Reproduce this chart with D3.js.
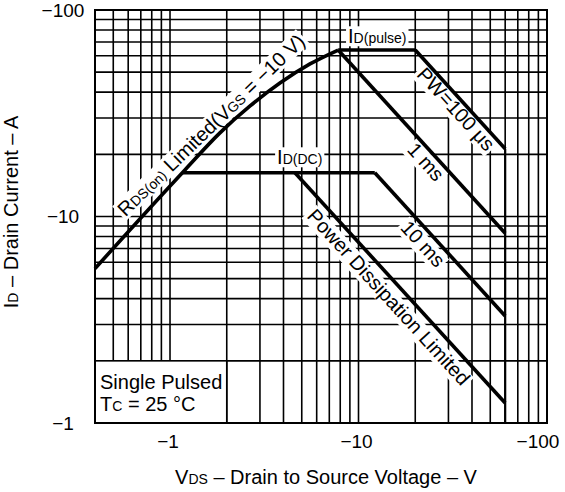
<!DOCTYPE html>
<html>
<head>
<meta charset="utf-8">
<script src="https://cdn.jsdelivr.net/npm/d3@7"></script>
<style>
  body { margin: 0; background: #fff; }
  text { font-family: "Liberation Sans", Arial, Helvetica, sans-serif; fill: #000; white-space: pre; }
</style>
</head>
<body>
<svg id="graph" width="565" height="492"></svg>
<script>
  var svg = d3.select("#graph");

  // tick values are magnitudes, the labels carry the minus sign
  var xTicks = [1, 10, 100];
  var xTickLabels = ["\u22121", "\u221210", "\u2212100"];
  var yTicks = [1, 10, 100];
  var yTickLabels = ["\u22121", "\u221210", "\u2212100"];

  // SOA boundaries, |VDS| (V) against |ID| (A)
  var rdsV = [0.4, 0.69, 1.2, 1.84, 2.66, 3.83, 5.53, 7.8];
  var rdsI = [5.6, 9.7, 16.8, 25.4, 34.3, 44.3, 54.8, 64];
  var pulseV = [7.8, 20];
  var pulseI = [64, 64];
  var pw100V = [20, 60];
  var pw100I = [64, 21.3];
  var ms1V = [7.8, 60];
  var ms1I = [64, 8.3];
  var dcV = [1.17, 12.2];
  var dcI = [16.3, 16.3];
  var ms10V = [12.2, 60];
  var ms10I = [16.3, 3.3];
  var pdV = [4.6, 60];
  var pdI = [16.3, 1.25];
  var vdssV = [60, 60];
  var vdssI = [21.3, 1];

  var x = d3.scaleLog().domain([0.4, 100]).range([95, 547]);
  var y = d3.scaleLog().domain([1, 100]).range([423, 10]);

  function pts(vs, is) {
    return vs.map(function(v, i) { return [v, is[i]]; });
  }
  var line = d3.line()
      .x(function(d) { return x(d[0]); })
      .y(function(d) { return y(d[1]); });
  var smooth = d3.line()
      .x(function(d) { return x(d[0]); })
      .y(function(d) { return y(d[1]); })
      .curve(d3.curveMonotoneX);

  // slope -1 in log-log space, as drawn on this grid
  var diag = Math.atan2(y(1) - y(10), x(10) - x(1)) * 180 / Math.PI;

  // grid
  var grid = svg.append("g").attr("stroke", "#000").attr("stroke-width", 1.6);
  grid.selectAll(".vx").data(x.ticks()).enter().append("line")
      .attr("x1", function(d) { return x(d); }).attr("x2", function(d) { return x(d); })
      .attr("y1", y(1)).attr("y2", y(100));
  grid.selectAll(".hy").data(y.ticks()).enter().append("line")
      .attr("y1", function(d) { return y(d); }).attr("y2", function(d) { return y(d); })
      .attr("x1", x(0.4)).attr("x2", x(100));

  var labels = svg.append("g");
  var curves = svg.append("g").attr("fill", "none").attr("stroke", "#000")
      .attr("stroke-width", 3.6).attr("stroke-linejoin", "miter");

  // text made of normal and small (subscript-like) parts, with a white patch behind it
  function label(g, parts, anchor) {
    var t = g.append("text").attr("text-anchor", anchor || "start");
    parts.forEach(function(p) {
      t.append("tspan").attr("font-size", p[1]).text(p[0]);
    });
    var b = t.node().getBBox();
    g.insert("rect", "text")
      .attr("x", b.x - 2).attr("y", b.y + 1)
      .attr("width", b.width + 4).attr("height", b.height - 2)
      .attr("fill", "#fff");
    return t;
  }
  function rotated(v, i, angle, parts) {
    var g = labels.append("g")
        .attr("transform", "translate(" + x(v) + "," + y(i) + ") rotate(" + angle + ")");
    label(g, parts, "middle").attr("dy", "0.35em");
    g.select("rect").attr("y", -10).attr("height", 20);
    return g;
  }

  label(labels.append("g").attr("transform", "translate(" + x(8.8) + "," + y(69) + ")"),
        [["I", 20], ["D(pulse)", 14]]);
  label(labels.append("g").attr("transform", "translate(" + x(3.7) + "," + y(17.9) + ")"),
        [["I", 20], ["D(DC)", 14]]);

  rotated(32.5, 32.8, diag, [["PW=100 \u03bcs", 20]]);
  rotated(22.5, 18.2, diag, [["1 ms", 20]]);
  rotated(21.7, 7.3, diag, [["10 ms", 20]]);
  rotated(14.3, 4.03, diag, [["Power Dissipation Limited", 20]]);

  var rg = labels.append("g")
      .attr("transform", "translate(" + x(0.58) + "," + y(9.9) + ") rotate(-44)");
  label(rg, [["R", 20], ["DS(on)", 14], [" Limited(V", 20], ["GS", 14], [" = \u221210 V)", 20]]);

  // curves
  curves.append("path").attr("d", smooth(pts(rdsV, rdsI)));
  curves.append("path").attr("d", line(pts(pulseV, pulseI)));
  curves.append("path").attr("d", line(pts(pw100V, pw100I)));
  curves.append("path").attr("d", line(pts(ms1V, ms1I)));
  curves.append("path").attr("d", line(pts(dcV, dcI)));
  curves.append("path").attr("d", line(pts(ms10V, ms10I)));
  curves.append("path").attr("d", line(pts(pdV, pdI)));
  curves.append("path").attr("d", line(pts(vdssV, vdssI))).attr("stroke-width", 2.2);

  // condition box
  svg.append("rect")
      .attr("x", x(0.4)).attr("y", y(2))
      .attr("width", x(2) - x(0.4)).attr("height", y(1) - y(2))
      .attr("fill", "#fff").attr("stroke", "#000").attr("stroke-width", 1.6);
  svg.append("text").attr("x", x(0.4) + 5).attr("y", y(2) + 28)
      .attr("font-size", 20).text("Single Pulsed");
  var tc = svg.append("text").attr("x", x(0.4) + 5).attr("y", y(2) + 50).attr("font-size", 20);
  tc.append("tspan").text("T");
  tc.append("tspan").attr("font-size", 14).text("C");
  tc.append("tspan").text(" = 25 \u00b0C");

  // frame
  svg.append("rect")
      .attr("x", x(0.4)).attr("y", y(100))
      .attr("width", x(100) - x(0.4)).attr("height", y(1) - y(100))
      .attr("fill", "none").attr("stroke", "#000").attr("stroke-width", 2);

  // tick labels
  svg.selectAll(".xlab").data(xTicks).enter().append("text")
      .attr("x", function(d, i) { return x(d) - (i == xTicks.length - 1 ? 9 : 2); })
      .attr("y", 448)
      .attr("text-anchor", "middle")
      .attr("font-size", 19)
      .text(function(d, i) { return xTickLabels[i]; });
  svg.selectAll(".ylab").data(yTicks).enter().append("text")
      .attr("x", 63)
      .attr("y", function(d) { return y(d); })
      .attr("dy", "0.35em")
      .attr("text-anchor", "middle")
      .attr("font-size", 19)
      .text(function(d, i) { return yTickLabels[i]; });

  // axis titles
  var xt = svg.append("text").attr("x", 326).attr("y", 484)
      .attr("text-anchor", "middle").attr("font-size", 20);
  xt.append("tspan").text("V");
  xt.append("tspan").attr("font-size", 14).text("DS");
  xt.append("tspan").text(" \u2013 Drain to Source Voltage \u2013 V");

  var yt = svg.append("text")
      .attr("transform", "translate(18,212) rotate(-90)")
      .attr("text-anchor", "middle").attr("font-size", 20);
  yt.append("tspan").text("I");
  yt.append("tspan").attr("font-size", 14).text("D");
  yt.append("tspan").text(" \u2013 Drain Current \u2013 A");
</script>
</body>
</html>
